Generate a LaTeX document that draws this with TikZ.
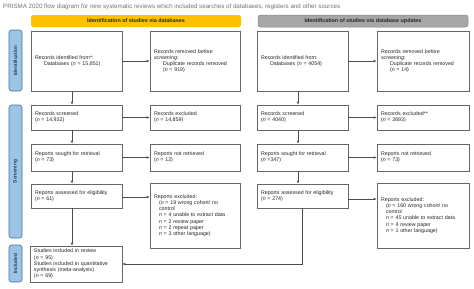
\documentclass[tikz,border=0pt]{standalone}
\usepackage{fontspec}
\setmainfont{Liberation Sans}
\usetikzlibrary{arrows.meta,calc}
\definecolor{hdyellow}{HTML}{FFC000}
\definecolor{hdgray}{HTML}{A6A6A6}
\definecolor{sidefill}{HTML}{9DC3E6}
\definecolor{sideline}{HTML}{41719C}
\definecolor{sidetext}{HTML}{1F3864}
\begin{document}
\begin{tikzpicture}[x=1pt,y=-1pt,
  bx/.style={draw=black!60, line width=0.6pt, fill=white, align=left,
    inner xsep=4pt, inner ysep=2pt, font=\fontsize{5.3}{6.2}\selectfont,
    text=black!85, anchor=center},
  arr/.style={draw=black!70, line width=0.6pt, -{Latex[length=3pt,width=2.6pt]}},
  side/.style={draw=sideline, line width=0.6pt, fill=sidefill, rounded corners=2.5pt,
    rotate=90, minimum height=13pt, inner sep=0pt, text=sidetext,
    font=\bfseries\fontsize{4.8}{5}\selectfont},
  hdr/.style={rounded corners=2.5pt, minimum height=12pt, inner sep=0pt,
    font=\bfseries\fontsize{5.4}{6}\selectfont, text=black!85}
]
\useasboundingbox (0,0) rectangle (474,289);
\fill[white] (0,0) rectangle (474,289);

\node[anchor=west, font=\fontsize{6.2}{7}\selectfont, text=black!55, inner sep=0pt] (title) at (3,7)
 {PRISMA 2020 flow diagram for new systematic reviews which included searches of databases, registers and other sources};

\node[hdr, fill=hdyellow, minimum width=210pt] (h1) at (136,21) {Identification of studies via databases};
\node[hdr, fill=hdgray, draw=black!45, line width=0.5pt, minimum width=210pt] (h2) at (363,21) {Identification of studies via database updates};

\node[side, minimum width=61pt] (sI) at (15.5,60.5) {Identification};
\node[side, minimum width=133pt] (sS) at (15.5,171.5) {Screening};
\node[side, minimum width=37pt] (sN) at (15.5,263.5) {Included};

% left column
\node[bx, minimum width=91pt, minimum height=60pt, text width=83pt] (b1) at (76.5,61)
 {Records identified from*:\\\hspace*{9pt}Databases (\textit{n} = 15,851)};
\node[bx, minimum width=90pt, minimum height=60pt, text width=82pt] (b2) at (195,61)
 {Records removed \textit{before}\\\textit{screening}:\\\hspace*{9pt}Duplicate records removed\\\hspace*{9pt}(\textit{n} = 919)};
\node[bx, minimum width=91pt, minimum height=25pt, text width=83pt] (s1) at (76.5,117.5)
 {Records screened\\(\textit{n} = 14,932)};
\node[bx, minimum width=90pt, minimum height=25pt, text width=82pt] (s2) at (195,117.5)
 {Records excluded\\(\textit{n} = 14,859)};
\node[bx, minimum width=91pt, minimum height=27pt, text width=83pt] (r1) at (76.5,157.5)
 {Reports sought for retrieval\\(\textit{n} = 73)};
\node[bx, minimum width=90pt, minimum height=27pt, text width=82pt] (r2) at (195,157.5)
 {Reports not retrieved\\(\textit{n} = 12)};
\node[bx, minimum width=91pt, minimum height=24pt, text width=83pt] (a1) at (76.5,196)
 {Reports assessed for eligibility\\(\textit{n} = 61)};
\node[bx, minimum width=90pt, minimum height=65pt, text width=82pt] (e1) at (195,215.5)
 {Reports excluded:\\
 \hspace*{5pt}(\textit{n} = 19 wrong cohort/ no\\
 \hspace*{5pt}control\\
 \hspace*{5pt}\textit{n} = 4 unable to extract data\\
 \hspace*{5pt}\textit{n} = 2 review paper\\
 \hspace*{5pt}\textit{n} = 2 repeat paper\\
 \hspace*{5pt}\textit{n} = 3 other language)};
\node[bx, minimum width=92pt, minimum height=36pt, text width=84pt] (inc) at (76,264)
 {Studies included in review\\(\textit{n} = 95)\\Studies included in quantitative\\synthesis (meta-analysis)\\(\textit{n} = 69)};

% right column
\node[bx, minimum width=91pt, minimum height=60pt, text width=83pt] (b3) at (302.5,61)
 {Records identified from:\\\hspace*{9pt}Databases (\textit{n} = 4054)};
\node[bx, minimum width=92pt, minimum height=60pt, text width=84pt] (b4) at (423,61)
 {Records removed \textit{before}\\\textit{screening}:\\\hspace*{9pt}Duplicate records removed\\\hspace*{9pt}(\textit{n} = 14)};
\node[bx, minimum width=91pt, minimum height=25pt, text width=83pt] (s3) at (302.5,117.5)
 {Records screened\\(\textit{n} = 4040)};
\node[bx, minimum width=92pt, minimum height=25pt, text width=84pt] (s4) at (423,117.5)
 {Records excluded**\\(\textit{n} = 3693)};
\node[bx, minimum width=91pt, minimum height=27pt, text width=83pt] (r3) at (302.5,157.5)
 {Reports sought for retrieval\\(\textit{n} =347)};
\node[bx, minimum width=92pt, minimum height=27pt, text width=84pt] (r4) at (423,157.5)
 {Reports not retrieved\\(\textit{n} = 73)};
\node[bx, minimum width=91pt, minimum height=24pt, text width=83pt] (a3) at (302.5,196)
 {Reports assessed for eligibility\\(\textit{n} = 274)};
\node[bx, minimum width=92pt, minimum height=65pt, text width=84pt] (e3) at (423,215.5)
 {Reports excluded:\\
 \hspace*{5pt}(\textit{n} = 160 wrong cohort/ no\\
 \hspace*{5pt}control\\
 \hspace*{5pt}\textit{n} = 45 unable to extract data\\
 \hspace*{5pt}\textit{n} = 4 review paper\\
 \hspace*{5pt}\textit{n} = 1 other language)};

\coordinate (a1e) at ([yshift=-1pt]a1.east);
\coordinate (a3e) at ([yshift=-3pt]a3.east);

% connectors left
\draw[arr] ([xshift=-4.5pt]b1.south) -- ([xshift=-4.5pt]s1.north);
\draw[arr] ([xshift=-4.5pt]s1.south) -- ([xshift=-4.5pt]r1.north);
\draw[arr] ([xshift=-4.5pt]r1.south) -- ([xshift=-4.5pt]a1.north);
\draw[arr] ([xshift=-4.5pt]a1.south) -- ([xshift=-4pt]inc.north);
\draw[arr] (b1.east) -- (b2.west);
\draw[arr] (s1.east) -- (s2.west);
\draw[arr] (r1.east) -- (r2.west);
\draw[arr] (a1e) -- (e1.west |- a1e);

% connectors right
\draw[arr] ([xshift=-4.5pt]b3.south) -- ([xshift=-4.5pt]s3.north);
\draw[arr] ([xshift=-4.5pt]s3.south) -- ([xshift=-4.5pt]r3.north);
\draw[arr] ([xshift=-4.5pt]r3.south) -- ([xshift=-4.5pt]a3.north);
\draw[arr] (b3.east) -- (b4.west);
\draw[arr] (s3.east) -- (s4.west);
\draw[arr] (r3.east) -- (r4.west);
\draw[arr] (a3e) -- (e3.west |- a3e);
\draw[arr] (a3.south) |- (inc.east);
\end{tikzpicture}
\end{document}
